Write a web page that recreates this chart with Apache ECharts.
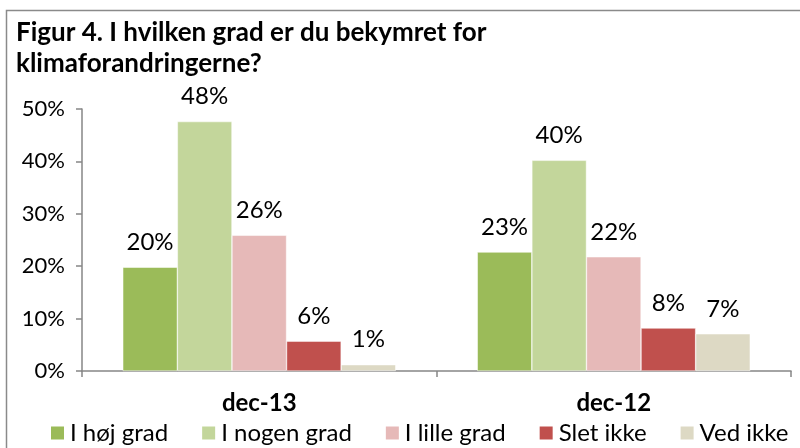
<!DOCTYPE html>
<html>
<head>
<meta charset="utf-8">
<script src="https://cdn.jsdelivr.net/npm/echarts@6/dist/echarts.min.js"></script>
<style>
  html, body { margin: 0; padding: 0; background: #fff; }
  #chart { width: 800px; height: 448px; }
</style>
</head>
<body>
<div id="chart"></div>
<script>
// data
var categories = ['dec-13', 'dec-12'];
var seriesNames = ['I høj grad', 'I nogen grad', 'I lille grad', 'Slet ikke', 'Ved ikke'];
var hojGrad = [19.8, 22.7];
var nogenGrad = [47.6, 40.2];
var lilleGrad = [25.9, 21.8];
var sletIkke = [5.7, 8.2];
var vedIkke = [1.2, 7.1];
var yTicks = [0, 10, 20, 30, 40, 50];

var colors = ['#9BBB59', '#C3D69B', '#E6B9B8', '#C0504D', '#DDD9C4'];
var values = [hojGrad, nogenGrad, lilleGrad, sletIkke, vedIkke];
var font = 'Lato';

var myChart = echarts.init(document.getElementById('chart'));

var series = seriesNames.map(function (name, i) {
  return {
    name: name,
    type: 'bar',
    data: values[i],
    barGap: '0%',
    barCategoryGap: '23%',
    itemStyle: { color: colors[i], borderColor: '#fff', borderWidth: 0.5 },
    label: {
      show: true,
      position: 'top',
      distance: 13,
      fontFamily: font,
      fontSize: 24,
      color: '#000',
      formatter: function (p) { return Math.round(p.value) + '%'; }
    }
  };
});

myChart.setOption({
  animation: false,
  color: colors,
  title: {
    text: 'Figur 4. I hvilken grad er du bekymret for\nklimaforandringerne?',
    left: 11,
    top: 12,
    textStyle: {
      fontFamily: font,
      fontWeight: 'bold',
      fontSize: 26,
      lineHeight: 31,
      color: '#000'
    }
  },
  graphic: [{
    type: 'rect',
    shape: { x: 6.5, y: 10.5, width: 900, height: 600 },
    style: { fill: 'none', stroke: '#8a8a8a', lineWidth: 1.5 },
    silent: true,
    z: -1
  }],
  legend: {
    data: seriesNames,
    left: 49,
    top: 421,
    padding: 0,
    itemWidth: 15,
    itemHeight: 15,
    itemGap: 32,
    icon: 'rect',
    textStyle: { fontFamily: font, fontSize: 24, color: '#000' }
  },
  grid: { left: 82, right: 9, top: 109, bottom: 77 },
  xAxis: {
    type: 'category',
    data: categories,
    axisLine: { lineStyle: { color: '#868686', width: 1.5 } },
    axisTick: { show: true, length: 6, lineStyle: { color: '#868686', width: 1.5 } },
    axisLabel: {
      margin: 20,
      fontFamily: font,
      fontWeight: 'bold',
      fontSize: 24,
      color: '#000'
    }
  },
  yAxis: {
    type: 'value',
    min: yTicks[0],
    max: yTicks[yTicks.length - 1],
    interval: 10,
    axisLine: { show: true, lineStyle: { color: '#868686', width: 1.5 } },
    axisTick: { show: true, length: 6, lineStyle: { color: '#868686', width: 1.5 } },
    splitLine: { show: false },
    axisLabel: {
      margin: 17,
      fontFamily: font,
      fontSize: 22,
      color: '#000',
      formatter: '{value}%'
    }
  },
  series: series
});
</script>
</body>
</html>
